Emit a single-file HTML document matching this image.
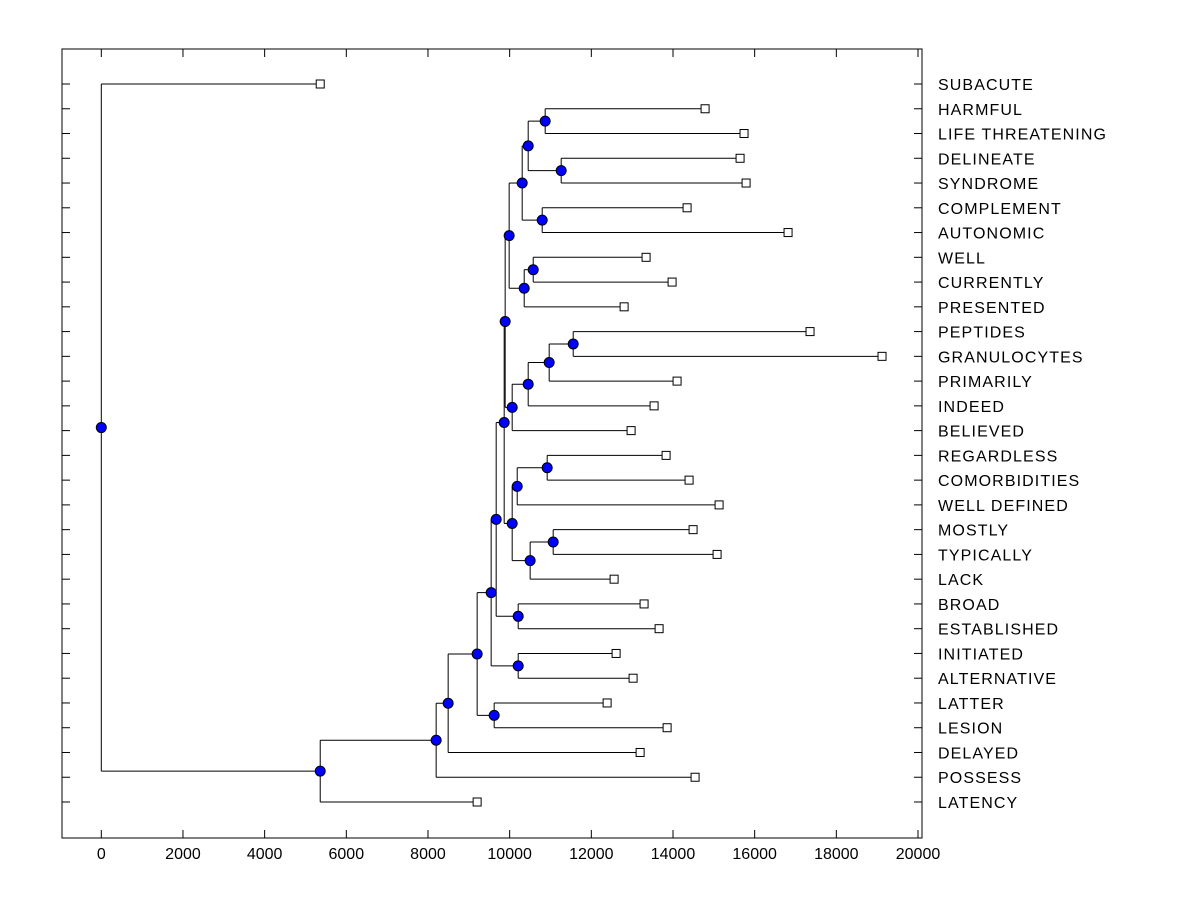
<!DOCTYPE html>
<html><head><meta charset="utf-8"><style>
html,body{margin:0;padding:0;background:#fff;}
svg text{font-family:"Liberation Sans",Arial,sans-serif;font-size:16px;fill:#000;}
svg text.leaf{letter-spacing:1.1px;}
</style></head><body>
<svg id="chart" width="1200" height="900" xmlns="http://www.w3.org/2000/svg">
<rect x="0" y="0" width="1200" height="900" fill="#fff"/>
<g id="marks"></g>
</svg>
<script>
const leafLabels = ["SUBACUTE","HARMFUL","LIFE THREATENING","DELINEATE","SYNDROME","COMPLEMENT","AUTONOMIC","WELL","CURRENTLY","PRESENTED","PEPTIDES","GRANULOCYTES","PRIMARILY","INDEED","BELIEVED","REGARDLESS","COMORBIDITIES","WELL DEFINED","MOSTLY","TYPICALLY","LACK","BROAD","ESTABLISHED","INITIATED","ALTERNATIVE","LATTER","LESION","DELAYED","POSSESS","LATENCY"];
const leafValues = [5361,14786,15740,15643,15790,14345,16818,13341,13978,12803,17356,19119,14100,13537,12974,13831,14394,15129,14492,15080,12558,13292,13660,12607,13023,12387,13856,13195,14541,9204];
const nodeNames = ["W","X","U","V","S","Y","T","Q","AB","AA","Z","R","K","O","M","P","N","L","J","H","G","I","E","F","D","C","B","A","root"];
const nodeValues = [10870,11262,10454,10797,10307,10577,10356,9988,11556,10968,10454,10062,9890,10919,10185,11066,10502,10062,9866,10209,9670,10209,9547,9621,9204,8494,8200,5361,0];
const nodeChildren = [
 ["HARMFUL","LIFE THREATENING"],["DELINEATE","SYNDROME"],["W","X"],["COMPLEMENT","AUTONOMIC"],["U","V"],
 ["WELL","CURRENTLY"],["Y","PRESENTED"],["S","T"],["PEPTIDES","GRANULOCYTES"],["AB","PRIMARILY"],["AA","INDEED"],["Z","BELIEVED"],["Q","R"],
 ["REGARDLESS","COMORBIDITIES"],["O","WELL DEFINED"],["MOSTLY","TYPICALLY"],["P","LACK"],["M","N"],["K","L"],
 ["BROAD","ESTABLISHED"],["J","H"],["INITIATED","ALTERNATIVE"],["G","I"],["LATTER","LESION"],["E","F"],["D","DELAYED"],["C","POSSESS"],["B","LATENCY"],["SUBACUTE","A"]
];
const xTicks = [0,2000,4000,6000,8000,10000,12000,14000,16000,18000,20000];

const L=62,R=922,T=49,B=838;
const xs = v => 101.3 + v*(816.7/20000);
const ys = i => 84 + i*(718/29);
const NS="http://www.w3.org/2000/svg";
const g=document.getElementById('marks');
function mk(tag,attrs,parent){const e=document.createElementNS(NS,tag);for(const k in attrs)e.setAttribute(k,attrs[k]);(parent||g).appendChild(e);return e;}

let fr=mk('rect',{x:L,y:T,width:R-L,height:B-T,fill:'none',stroke:'#000','stroke-width':1});



xTicks.forEach(v=>{
 const x=xs(v);
 let t1=mk('line',{x1:x,x2:x,y1:B,y2:B-8,stroke:'#000'});
 
 
 let t2=mk('line',{x1:x,x2:x,y1:T,y2:T+8,stroke:'#000'});
 
 
 let tx=mk('text',{x:x,y:B+21,'text-anchor':'middle'});
 tx.textContent=v;
 
 
});

const pos={};
leafLabels.forEach((n,i)=>{pos[n]={x:xs(leafValues[i]),y:ys(i),leaf:true};});
nodeNames.forEach((n,i)=>{
 const [a,b]=nodeChildren[i];
 pos[n]={x:xs(nodeValues[i]),y:(pos[a].y+pos[b].y)/2,leaf:false};
});

leafLabels.forEach((n,i)=>{
 const y=ys(i);
 let a=mk('line',{x1:L,x2:L+8,y1:y,y2:y,stroke:'#000'});
 
 
 let b=mk('line',{x1:R-8,x2:R,y1:y,y2:y,stroke:'#000'});
 
 
 let t=mk('text',{x:938,y:y+6,'class':'leaf'});
 t.textContent=n;
 
 
});

nodeNames.forEach((n,i)=>{
 const p=pos[n];const [a,b]=nodeChildren[i];
 const ca=pos[a],cb=pos[b];
 let v=mk('line',{x1:p.x,x2:p.x,y1:ca.y,y2:cb.y,stroke:'#000'});
 
 
 [ca,cb].forEach(c=>{
  let h=mk('line',{x1:p.x,x2:c.x,y1:c.y,y2:c.y,stroke:'#000'});
  
  
 });
});
leafLabels.forEach(n=>{
 const p=pos[n];
 let s=mk('rect',{x:p.x-4,y:p.y-4,width:8,height:8,fill:'#fff',stroke:'#000'});
 
 
});
nodeNames.forEach(n=>{
 const p=pos[n];
 let c=mk('circle',{cx:p.x,cy:p.y,r:5,fill:'#0000ff',stroke:'#000'});
 
 
});
</script>
</body></html>
